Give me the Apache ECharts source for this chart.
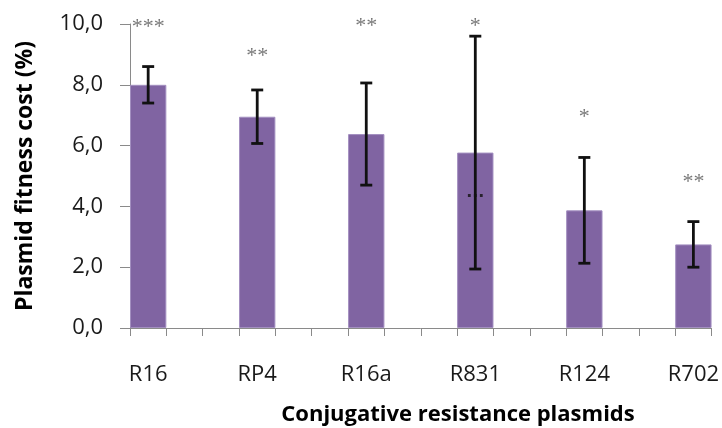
<!DOCTYPE html>
<html>
<head>
<meta charset="utf-8">
<script src="https://cdn.jsdelivr.net/npm/echarts@6/dist/echarts.min.js"></script>
<style>
  html, body { margin: 0; padding: 0; background: #fff; }
  #chart { width: 722px; height: 428px; }
</style>
</head>
<body>
<div id="chart"></div>
<script>
// Plasmid fitness cost per conjugative resistance plasmid
const plasmids = ['R16', 'RP4', 'R16a', 'R831', 'R124', 'R702'];
const fitnessCost = [8.0, 6.95, 6.38, 5.77, 3.87, 2.75];
const costError = [0.6, 0.88, 1.68, 3.83, 1.74, 0.75];
const significance = ['***', '**', '**', '*', '*', '**'];
const significanceY = [10.04, 9.08, 10.07, 10.07, 7.07, 4.93];
const yTicks = [0, 2, 4, 6, 8, 10];
const xTitle = 'Conjugative resistance plasmids';
const yTitle = 'Plasmid fitness cost (%)';

// each plasmid sits in its own slot with two empty slots in between
const SLOT_STEP = 3;
const slotCount = (plasmids.length - 1) * SLOT_STEP + 1;
const slotNames = [];
const barData = [];
for (let s = 0; s < slotCount; s++) {
  const i = s / SLOT_STEP;
  if (Number.isInteger(i)) {
    slotNames.push(plasmids[i]);
    barData.push(fitnessCost[i]);
  } else {
    slotNames.push('');
    barData.push('-');
  }
}
const errorData = plasmids.map((p, i) => [i * SLOT_STEP, fitnessCost[i] - costError[i], fitnessCost[i] + costError[i]]);
const starData = plasmids.map((p, i) => ({ value: [i * SLOT_STEP, significanceY[i]], text: significance[i] }));

const font = 'Open Sans';
const chart = echarts.init(document.getElementById('chart'), null, { renderer: 'canvas' });
chart.setOption({
  animation: false,
  grid: { left: 130, right: 9, top: 24, bottom: 100 },
  graphic: [
    {
      type: 'text', x: 458, y: 415,
      style: { text: xTitle, fontFamily: font, fontWeight: 'bold', fontSize: 22, fill: '#000', align: 'center', verticalAlign: 'middle' }
    },
    {
      type: 'text', x: 25, y: 176, rotation: Math.PI / 2,
      style: { text: yTitle, fontFamily: font, fontWeight: 'bold', fontSize: 23, fill: '#000', align: 'center', verticalAlign: 'middle' }
    }
  ],
  xAxis: {
    type: 'category',
    data: slotNames,
    boundaryGap: true,
    axisLine: { lineStyle: { color: '#8a8a8a', width: 1 } },
    axisTick: { show: true, interval: 0, length: 8, lineStyle: { color: '#8a8a8a' } },
    axisLabel: { interval: 0, margin: 36, fontFamily: font, fontSize: 22, color: '#1a1a1a' },
    splitLine: { show: false }
  },
  yAxis: {
    type: 'value',
    min: yTicks[0],
    max: yTicks[yTicks.length - 1],
    interval: yTicks[1] - yTicks[0],
    axisLine: { show: true, lineStyle: { color: '#8a8a8a', width: 1 } },
    axisTick: { show: true, length: 10, lineStyle: { color: '#8a8a8a' } },
    axisLabel: {
      margin: 27, fontFamily: font, fontSize: 22, color: '#1a1a1a',
      formatter: v => v.toFixed(1).replace('.', ',')
    },
    splitLine: { show: false }
  },
  series: [
    {
      type: 'bar',
      data: barData,
      barCategoryGap: '0%',
      itemStyle: { color: '#8064A2', borderColor: '#a38fc0', borderWidth: 1 }
    },
    {
      type: 'custom',
      data: errorData,
      z: 5,
      clip: false,
      renderItem: function (params, api) {
        const x = api.value(0);
        const lo = api.coord([x, api.value(1)]);
        const hi = api.coord([x, api.value(2)]);
        const cap = 6;
        const style = { stroke: '#111', lineWidth: 2.8 };
        return {
          type: 'group',
          children: [
            { type: 'line', shape: { x1: lo[0], y1: lo[1], x2: hi[0], y2: hi[1] }, style: style },
            { type: 'line', shape: { x1: hi[0] - cap, y1: hi[1], x2: hi[0] + cap, y2: hi[1] }, style: style },
            { type: 'line', shape: { x1: lo[0] - cap, y1: lo[1], x2: lo[0] + cap, y2: lo[1] }, style: style }
          ]
        };
      }
    },
    {
      type: 'scatter',
      data: starData,
      symbolSize: 0,
      clip: false,
      z: 6,
      label: {
        show: true,
        position: 'inside',
        formatter: p => p.data.text,
        fontFamily: 'Liberation Serif',
        fontSize: 22,
        color: '#555',
        offset: [0, 4]
      }
    },
    {
      type: 'scatter',
      data: [{ value: [3 * SLOT_STEP, 4.29], text: '...' }],
      symbolSize: 0,
      clip: false,
      z: 6,
      label: {
        show: true,
        position: 'inside',
        formatter: p => p.data.text,
        fontFamily: 'DejaVu Sans',
        fontWeight: 'bold',
        fontSize: 16,
        color: '#111',
        offset: [0, -5]
      }
    }
  ]
});
</script>
</body>
</html>
